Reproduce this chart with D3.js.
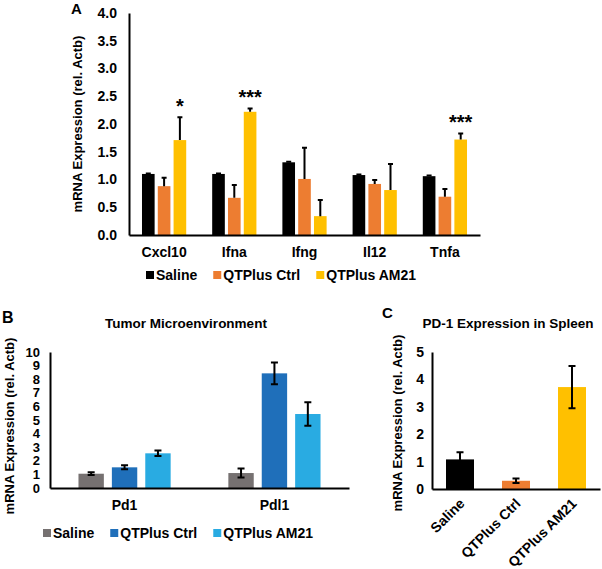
<!DOCTYPE html>
<html>
<head>
<meta charset="utf-8">
<script src="https://cdn.jsdelivr.net/npm/d3@7"></script>
<style>
  body { margin: 0; background: #fff; }
  text { font-family: "Liberation Sans", Arial, sans-serif; font-weight: bold; fill: #000; }
</style>
</head>
<body>
<div id="chart"></div>
<script>
// ---- data ----
var seriesA = ["Saline", "QTPlus Ctrl", "QTPlus AM21"];
var genesA = ["Cxcl10", "Ifna", "Ifng", "Il12", "Tnfa"];
var salineA = [1.10, 1.10, 1.31, 1.08, 1.06];
var salineErrA = [0.01, 0.01, 0.01, 0.01, 0.01];
var ctrlA = [0.88, 0.67, 1.01, 0.92, 0.69];
var ctrlErrA = [0.15, 0.23, 0.56, 0.07, 0.14];
var am21A = [1.71, 2.22, 0.34, 0.81, 1.72];
var am21ErrA = [0.41, 0.06, 0.29, 0.47, 0.11];
var starsA = ["*", "***", "", "", "***"];
var ticksA = [0, 0.5, 1, 1.5, 2, 2.5, 3, 3.5, 4];

var seriesB = ["Saline", "QTPlus Ctrl", "QTPlus AM21"];
var genesB = ["Pd1", "Pdl1"];
var salineB = [1.05, 1.10];
var salineErrB = [0.10, 0.33];
var ctrlB = [1.52, 8.43];
var ctrlErrB = [0.15, 0.80];
var am21B = [2.55, 5.44];
var am21ErrB = [0.20, 0.86];
var ticksB = [0, 1, 2, 3, 4, 5, 6, 7, 8, 9, 10];

var groupsC = ["Saline", "QTPlus Ctrl", "QTPlus AM21"];
var valuesC = [1.08, 0.30, 3.72];
var errC = [0.26, 0.08, 0.77];
var ticksC = [0, 1, 2, 3, 4, 5];

var colorsA = ["#000000", "#ED7D31", "#FFC000"];
var colorsB = ["#767171", "#1F6FBA", "#29ABE2"];

var svg = d3.select("#chart").append("svg")
    .attr("width", 602)
    .attr("height", 569);

function rows(cats, vals, errs) {
    var out = [];
    cats.forEach(function(c, i) {
        vals.forEach(function(v, s) {
            out.push({cat: c, s: s, v: v[i], e: errs[s][i]});
        });
    });
    return out;
}

function yAxisLabel(x, y) {
    svg.append("text")
        .attr("transform", "translate(" + x + "," + y + ")rotate(-90)")
        .attr("text-anchor", "middle")
        .attr("dy", "0.35em")
        .style("font-size", "13px")
        .text("mRNA Expression (rel. Actb)");
}

function legend(x0, y, names, colors) {
    var x = x0;
    names.forEach(function(n, i) {
        svg.append("rect")
            .attr("x", x).attr("y", y - 4)
            .attr("width", 8).attr("height", 8)
            .attr("fill", colors[i]);
        var t = svg.append("text")
            .attr("x", x + 10).attr("y", y)
            .attr("dy", "0.35em")
            .style("font-size", "14px")
            .text(n);
        x += 10 + t.node().getComputedTextLength() + 16;
    });
}

function styleAxis(size) {
    return function(g) {
        g.select(".domain").attr("stroke", "#000").attr("stroke-width", 2);
        g.selectAll(".tick line").remove();
        g.selectAll("text").style("font-size", size + "px")
            .style("font-family", "Liberation Sans, Arial, sans-serif")
            .style("font-weight", "bold");
    };
}

// ---- Panel A ----
var yA = d3.scaleLinear().domain([0, 4]).range([235, 13]);
var xA = d3.scaleBand().domain(genesA).range([129, 480])
    .paddingInner(0.37).paddingOuter(0.185);
var xsA = d3.scaleBand().domain([0, 1, 2]).range([0, xA.bandwidth()]).paddingInner(0.2);

var dataA = rows(genesA, [salineA, ctrlA, am21A], [salineErrA, ctrlErrA, am21ErrA]);

svg.selectAll(".barA").data(dataA).enter().append("rect")
    .attr("x", function(d) { return xA(d.cat) + xsA(d.s); })
    .attr("y", function(d) { return yA(d.v); })
    .attr("width", xsA.bandwidth())
    .attr("height", function(d) { return yA(0) - yA(d.v); })
    .attr("fill", function(d) { return colorsA[d.s]; });

svg.selectAll(".errA").data(dataA).enter().append("path")
    .attr("d", function(d) {
        var cx = xA(d.cat) + xsA(d.s) + xsA.bandwidth() / 2;
        return "M" + cx + "," + yA(d.v) + "V" + yA(d.v + d.e) +
            "M" + (cx - 2.5) + "," + yA(d.v + d.e) + "H" + (cx + 2.5);
    })
    .attr("stroke", "#000").attr("stroke-width", 2).attr("fill", "none");

svg.selectAll(".starA").data(genesA).enter().append("text")
    .attr("x", function(d) { return xA(d) + xsA(2) + xsA.bandwidth() / 2; })
    .attr("y", function(d, i) { return yA(am21A[i] + am21ErrA[i]) - 4; })
    .attr("text-anchor", "middle")
    .style("font-size", "20px")
    .text(function(d, i) { return starsA[i]; });

svg.append("g")
    .attr("transform", "translate(129,0)")
    .call(d3.axisLeft(yA).tickValues(ticksA).tickFormat(d3.format(".1f")).tickSize(0).tickPadding(12))
    .call(styleAxis(14));
svg.append("g")
    .attr("transform", "translate(0,235)")
    .call(d3.axisBottom(xA).tickSize(0).tickPadding(12))
    .call(styleAxis(14));

yAxisLabel(77, 124);
svg.append("text").attr("x", 71).attr("y", 14).style("font-size", "15px").text("A");
legend(146, 275, seriesA, colorsA);

// ---- Panel B ----
var yB = d3.scaleLinear().domain([0, 10]).range([488, 352]);
var xB = d3.scaleBand().domain(genesB).range([50, 349])
    .paddingInner(0.385).paddingOuter(0.19);
var xsB = d3.scaleBand().domain([0, 1, 2]).range([0, xB.bandwidth()]).paddingInner(0.24);

var dataB = rows(genesB, [salineB, ctrlB, am21B], [salineErrB, ctrlErrB, am21ErrB]);

svg.selectAll(".barB").data(dataB).enter().append("rect")
    .attr("x", function(d) { return xB(d.cat) + xsB(d.s); })
    .attr("y", function(d) { return yB(d.v); })
    .attr("width", xsB.bandwidth())
    .attr("height", function(d) { return yB(0) - yB(d.v); })
    .attr("fill", function(d) { return colorsB[d.s]; });

svg.selectAll(".errB").data(dataB).enter().append("path")
    .attr("d", function(d) {
        var cx = xB(d.cat) + xsB(d.s) + xsB.bandwidth() / 2;
        var t = yB(d.v + d.e), b = yB(d.v - d.e);
        return "M" + cx + "," + t + "V" + b +
            "M" + (cx - 3.5) + "," + t + "H" + (cx + 3.5) +
            "M" + (cx - 3.5) + "," + b + "H" + (cx + 3.5);
    })
    .attr("stroke", "#000").attr("stroke-width", 2).attr("fill", "none");

svg.append("g")
    .attr("transform", "translate(50,0)")
    .call(d3.axisLeft(yB).tickValues(ticksB).tickFormat(d3.format("d")).tickSize(0).tickPadding(10))
    .call(styleAxis(13));
svg.append("g")
    .attr("transform", "translate(0,488)")
    .call(d3.axisBottom(xB).tickSize(0).tickPadding(12))
    .call(styleAxis(14));

yAxisLabel(9, 426);
svg.append("text").attr("x", 2).attr("y", 323).style("font-size", "16px").text("B");
svg.append("text").attr("x", 186).attr("y", 328).attr("text-anchor", "middle")
    .style("font-size", "13.5px").text("Tumor Microenvironment");
legend(43, 533, seriesB, colorsB);

// ---- Panel C ----
var yC = d3.scaleLinear().domain([0, 5]).range([489, 352]);
var xC = d3.scaleBand().domain(groupsC).range([432, 600])
    .paddingInner(0.5).paddingOuter(0.25);

svg.selectAll(".barC").data(groupsC).enter().append("rect")
    .attr("x", function(d) { return xC(d); })
    .attr("y", function(d, i) { return yC(valuesC[i]); })
    .attr("width", xC.bandwidth())
    .attr("height", function(d, i) { return yC(0) - yC(valuesC[i]); })
    .attr("fill", function(d, i) { return colorsA[i]; });

svg.selectAll(".errC").data(groupsC).enter().append("path")
    .attr("d", function(d, i) {
        var cx = xC(d) + xC.bandwidth() / 2;
        var t = yC(valuesC[i] + errC[i]), b = yC(valuesC[i] - errC[i]);
        return "M" + cx + "," + t + "V" + b +
            "M" + (cx - 3.5) + "," + t + "H" + (cx + 3.5) +
            "M" + (cx - 3.5) + "," + b + "H" + (cx + 3.5);
    })
    .attr("stroke", "#000").attr("stroke-width", 2).attr("fill", "none");

svg.append("g")
    .attr("transform", "translate(432,0)")
    .call(d3.axisLeft(yC).tickValues(ticksC).tickFormat(d3.format("d")).tickSize(0).tickPadding(8))
    .call(styleAxis(14));
var gxC = svg.append("g")
    .attr("transform", "translate(0,489)")
    .call(d3.axisBottom(xC).tickSize(0).tickPadding(0))
    .call(styleAxis(14));
gxC.selectAll(".tick text")
    .attr("text-anchor", "end")
    .attr("dy", "0.35em")
    .attr("transform", "translate(2,12)rotate(-45)");

yAxisLabel(397, 423);
svg.append("text").attr("x", 382).attr("y", 318).style("font-size", "15px").text("C");
svg.append("text").attr("x", 508).attr("y", 328).attr("text-anchor", "middle")
    .style("font-size", "13.5px").text("PD-1 Expression in Spleen");
</script>
</body>
</html>
